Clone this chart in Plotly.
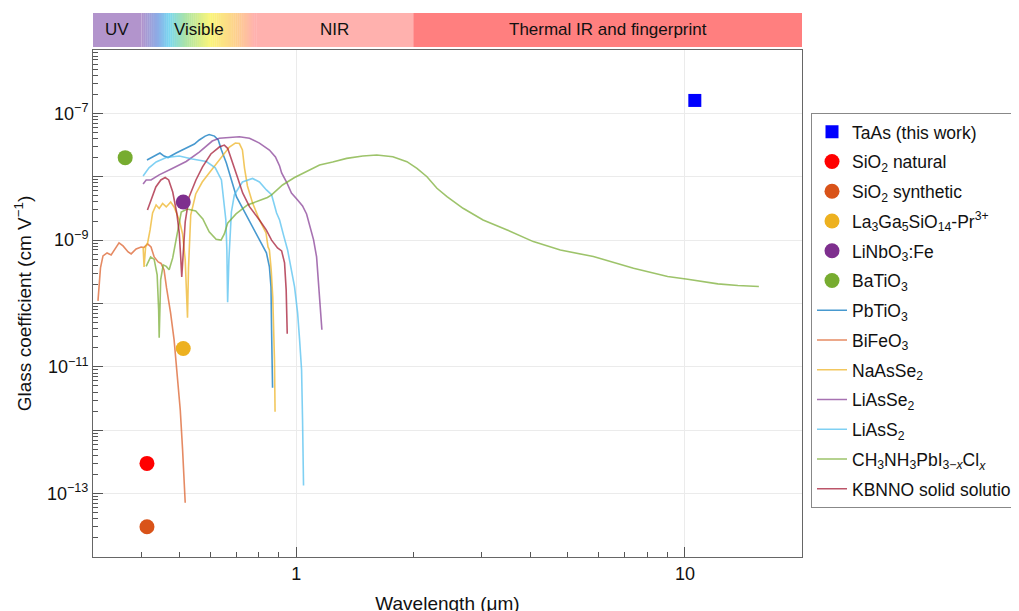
import plotly.graph_objects as go
import numpy as np

# ---------------- data ----------------
# point measurements (wavelength um, glass coefficient cm/V)
pt_names = ["TaAs (this work)", "SiO<sub>2</sub> natural", "SiO<sub>2</sub> synthetic",
            "La<sub>3</sub>Ga<sub>5</sub>SiO<sub>14</sub>-Pr<sup>3+</sup>",
            "LiNbO<sub>3</sub>:Fe", "BaTiO<sub>3</sub>"]
pt_x = [10.6, 0.413, 0.413, 0.512, 0.512, 0.363]
pt_y = [1.6e-7, 3.0e-13, 3.0e-14, 1.95e-11, 4.0e-9, 2.0e-8]
pt_colors = ["#0000ff", "#ff0000", "#d95319", "#edb120", "#7e2f8e", "#77ac30"]
pt_symbols = ["square", "circle", "circle", "circle", "circle", "circle"]

pbtio3_x = [0.413, 0.431, 0.446, 0.457, 0.468, 0.491, 0.515, 0.530, 0.547, 0.563, 0.583, 0.597,
            0.616, 0.630, 0.642, 0.661, 0.685, 0.702, 0.727, 0.772, 0.814, 0.838, 0.853, 0.861,
            0.864, 0.866, 0.869]
pbtio3_y = [1.84e-8, 2.12e-8, 2.37e-8, 2.12e-8, 2.01e-8, 2.37e-8, 2.73e-8, 3.05e-8, 3.28e-8,
            3.8e-8, 4.38e-8, 4.63e-8, 4.38e-8, 3.8e-8, 2.64e-8, 1.65e-8, 7.98e-9, 4.8e-9, 3.22e-9,
            1.61e-9, 9.0e-10, 6.3e-10, 3.79e-10, 1.83e-10, 3.85e-11, 9.0e-12, 4.7e-12]

bifeo3_x = [0.309, 0.3136, 0.3183, 0.3261, 0.334, 0.3418, 0.350, 0.3584, 0.3694, 0.3761, 0.3873,
            0.399, 0.406, 0.4146, 0.423, 0.431, 0.4413, 0.449, 0.457, 0.4638, 0.475, 0.485, 0.494,
            0.503, 0.510, 0.516, 0.518]
bifeo3_y = [1.10e-10, 3.65e-10, 5.64e-10, 6.28e-10, 5.85e-10, 7.26e-10, 9.03e-10, 8.1e-10, 6.52e-10,
            6.06e-10, 7.26e-10, 7.8e-10, 7.67e-10, 8.71e-10, 7.8e-10, 5.43e-10, 4.53e-10, 4.29e-10,
            3.39e-10, 1.76e-10, 7.13e-11, 2.67e-11, 8.37e-12, 2.11e-12, 4.94e-13, 1.49e-13, 7.2e-14]

naasse2_x = [0.4037, 0.406, 0.4097, 0.4146, 0.4207, 0.427, 0.436, 0.444, 0.4531, 0.463, 0.4753,
             0.485, 0.500, 0.510, 0.518, 0.5227, 0.5251, 0.5282, 0.5352, 0.5513, 0.573, 0.597,
             0.634, 0.673, 0.697, 0.714, 0.727, 0.736, 0.749, 0.772, 0.804, 0.836, 0.846, 0.853,
             0.862, 0.870, 0.879, 0.882]
naasse2_y = [7.8e-10, 3.78e-10, 7.8e-10, 9.03e-10, 1.45e-9, 2.68e-9, 3.59e-9, 3.16e-9, 3.79e-9,
             3.34e-9, 4.0e-9, 3.34e-9, 2.08e-9, 1.25e-9, 4.88e-10, 1.64e-10, 5.94e-11, 3.65e-10,
             2.49e-9, 5.35e-9, 8.26e-9, 1.15e-8, 1.84e-8, 2.94e-8, 3.40e-8, 3.34e-8, 2.64e-8,
             1.37e-8, 7.15e-9, 3.86e-9, 2.08e-9, 1.30e-9, 7.8e-10, 7.0e-10, 3.4e-10, 1.27e-10,
             1.29e-11, 1.96e-12]

liasse2_x = [0.4037, 0.411, 0.423, 0.444, 0.4797, 0.521, 0.563, 0.608, 0.634, 0.685, 0.714, 0.758,
             0.804, 0.853, 0.884, 0.906, 0.917, 0.944, 0.972, 1.008, 1.038, 1.063, 1.089, 1.108,
             1.128, 1.148, 1.164]
liasse2_y = [7.69e-9, 8.9e-9, 8.9e-9, 1.07e-8, 1.35e-8, 1.74e-8, 2.45e-8, 3.66e-8, 4.04e-8, 4.23e-8,
             4.28e-8, 4.04e-8, 3.40e-8, 2.64e-8, 2.05e-8, 1.48e-8, 1.15e-8, 8.26e-9, 5.55e-9,
             4.3e-9, 3.46e-9, 2.59e-9, 1.56e-9, 1.01e-9, 5.43e-10, 1.27e-10, 3.85e-11]

liass2_x = [0.4037, 0.418, 0.436, 0.463, 0.500, 0.540, 0.587, 0.619, 0.642, 0.651, 0.659, 0.663,
            0.666, 0.671, 0.676, 0.681, 0.693, 0.727, 0.772, 0.804, 0.838, 0.864, 0.890, 0.906,
            0.927, 0.950, 0.990, 1.008, 1.020, 1.032, 1.038, 1.044]
liass2_y = [1.03e-8, 1.38e-8, 1.71e-8, 2.01e-8, 2.12e-8, 1.90e-8, 1.74e-8, 1.38e-8, 8.9e-9, 4.3e-9,
            2.08e-9, 7.0e-10, 1.05e-10, 4.9e-10, 1.0e-9, 2.78e-9, 5.2e-9, 8.26e-9, 9.4e-9, 8.26e-9,
            6.2e-9, 5.2e-9, 2.68e-9, 2.08e-9, 1.21e-9, 7.0e-10, 1.83e-10, 7.1e-11, 2.67e-11,
            9.0e-12, 1.47e-12, 1.34e-13]

mapi_x = [0.411, 0.422, 0.431, 0.4387, 0.4426, 0.444, 0.4479, 0.4547, 0.463, 0.471, 0.481, 0.491,
          0.506, 0.5243, 0.5513, 0.575, 0.597, 0.622, 0.6405, 0.653, 0.666, 0.700, 0.749, 0.804,
          0.843, 0.864, 0.922, 0.990, 1.082, 1.148, 1.241, 1.348, 1.483, 1.611, 1.772, 1.926,
          2.044, 2.169, 2.301, 2.442, 2.686, 3.024, 3.488, 4.072, 4.779, 5.812, 7.373, 9.024,
          10.16, 12.15, 13.68, 15.49]
mapi_y = [3.85e-10, 5.43e-10, 4.96e-10, 2.83e-10, 7.94e-11, 2.88e-11, 2.36e-10, 4.07e-10, 3.85e-10,
          3.4e-10, 5.24e-10, 1.08e-9, 2.78e-9, 3.10e-9, 2.88e-9, 2.16e-9, 1.35e-9, 1.03e-9,
          1.0e-9, 1.25e-9, 1.85e-9, 2.59e-9, 3.59e-9, 4.22e-9, 4.71e-9, 5.16e-9, 7.41e-9, 9.73e-9,
          1.28e-8, 1.53e-8, 1.71e-8, 1.95e-8, 2.12e-8, 2.20e-8, 2.07e-8, 1.73e-8, 1.36e-8, 1.0e-8,
          6.58e-9, 4.85e-9, 3.18e-9, 2.08e-9, 1.45e-9, 9.47e-10, 7.0e-10, 5.50e-10, 3.61e-10,
          2.66e-10, 2.42e-10, 2.04e-10, 1.92e-10, 1.85e-10]

kbnno_x = [0.4142, 0.4224, 0.4353, 0.4484, 0.4601, 0.4697, 0.4811, 0.4927, 0.500, 0.5045, 0.5075,
           0.512, 0.518, 0.530, 0.552, 0.574, 0.603, 0.634, 0.653, 0.666, 0.686, 0.707, 0.728,
           0.758, 0.804, 0.837, 0.864, 0.895, 0.917, 0.933, 0.942, 0.948]
kbnno_y = [2.99e-9, 4.3e-9, 6.89e-9, 8.9e-9, 9.73e-9, 8.9e-9, 5.75e-9, 2.68e-9, 1.30e-9, 5.24e-10,
           2.63e-10, 6.28e-10, 1.94e-9, 4.8e-9, 8.9e-9, 1.43e-8, 2.29e-8, 2.94e-8, 3.16e-8, 2.81e-8,
           1.71e-8, 9.56e-9, 5.55e-9, 3.37e-9, 2.08e-9, 1.45e-9, 1.0e-9, 7.54e-10, 6.76e-10,
           4.37e-10, 1.64e-10, 3.33e-11]

line_names = ["PbTiO<sub>3</sub>", "BiFeO<sub>3</sub>", "NaAsSe<sub>2</sub>", "LiAsSe<sub>2</sub>",
              "LiAsS<sub>2</sub>", "CH<sub>3</sub>NH<sub>3</sub>PbI<sub>3−<i>x</i></sub>Cl<sub><i>x</i></sub>",
              "KBNNO solid solution"]
line_xs = [pbtio3_x, bifeo3_x, naasse2_x, liasse2_x, liass2_x, mapi_x, kbnno_x]
line_ys = [pbtio3_y, bifeo3_y, naasse2_y, liasse2_y, liass2_y, mapi_y, kbnno_y]
line_colors = ["rgba(0,114,189,0.72)", "rgba(217,83,25,0.68)", "rgba(237,177,32,0.72)",
               "rgba(126,47,142,0.68)", "rgba(77,190,238,0.72)", "rgba(119,172,48,0.72)",
               "rgba(162,20,47,0.72)"]

# spectral band strip
band_labels = ["UV", "Visible", "NIR", "Thermal IR and fingerprint"]
band_edges = [0.3, 0.4, 0.79, 2.0, 20.0]
band_colors = ["#b294cc", None, "#ffb1ae", "#ff7f7f"]
vis_stops = [(0.40, (178, 148, 204)), (0.44, (140, 172, 230)), (0.47, (122, 214, 240)),
             (0.52, (172, 228, 165)), (0.60, (250, 245, 122)), (0.70, (253, 208, 142)),
             (0.78, (255, 178, 174)), (0.79, (255, 177, 174))]

FONT = "Liberation Sans, Arial, Helvetica, sans-serif"

fig = go.Figure()

for i, (n, xs, ys, c) in enumerate(zip(line_names, line_xs, line_ys, line_colors)):
    fig.add_trace(go.Scatter(x=xs, y=ys, mode="lines", name=n, legendgroup="l%d" % i,
                             line=dict(color=c, width=1.6), legendrank=100 + i))

for i, (n, x, y, c, s) in enumerate(zip(pt_names, pt_x, pt_y, pt_colors, pt_symbols)):
    fig.add_trace(go.Scatter(x=[x], y=[y], mode="markers", name=n, legendgroup="p%d" % i,
                             marker=dict(color=c, symbol=s, size=13 if s == "square" else 15,
                                         line=dict(width=0)),
                             legendrank=1 + i))

# band shapes
shapes = []
y0b, y1b = 1.006, 1.073
for i, lab in enumerate(band_labels):
    if band_colors[i] is not None:
        shapes.append(dict(type="rect", xref="x", yref="paper", x0=band_edges[i], x1=band_edges[i + 1],
                           y0=y0b, y1=y1b, fillcolor=band_colors[i], line=dict(width=0), layer="above"))
# visible gradient
lx = np.log10([s[0] for s in vis_stops])
cols = np.array([s[1] for s in vis_stops], dtype=float)
nseg = 60
edges = np.linspace(np.log10(0.4), np.log10(0.79), nseg + 1)
for k in range(nseg):
    mid = 0.5 * (edges[k] + edges[k + 1])
    rgb = [int(round(np.interp(mid, lx, cols[:, j]))) for j in range(3)]
    shapes.append(dict(type="rect", xref="x", yref="paper", x0=10 ** edges[k], x1=10 ** edges[k + 1] * 1.002,
                       y0=y0b, y1=y1b, fillcolor="rgb(%d,%d,%d)" % tuple(rgb), line=dict(width=0),
                       layer="above"))

annotations = []
for i, lab in enumerate(band_labels):
    xc = np.sqrt(band_edges[i] * band_edges[i + 1])
    annotations.append(dict(x=np.log10(xc), xref="x", y=(y0b + y1b) / 2, yref="paper", text=lab,
                            xanchor="center", yanchor="middle",
                            showarrow=False, font=dict(size=17, color="#111", family=FONT)))

y_decades = [10.0 ** e for e in range(-14, -5)]
y_text = ["10<sup>−%d</sup>" % (-e) if (e % 2 != 0) else "" for e in range(-14, -5)]
y_minor = [m * 10.0 ** e for e in range(-14, -6) for m in range(2, 10)]
x_major = [1, 10]
x_minor = [0.3, 0.4, 0.5, 0.6, 0.7, 0.8, 0.9, 2, 3, 4, 5, 6, 7, 8, 9, 20]

fig.update_layout(
    width=1019, height=611,
    margin=dict(l=85, r=225, t=42, b=62, autoexpand=False),
    paper_bgcolor="white", plot_bgcolor="white",
    font=dict(family=FONT, size=17, color="#111"),
    shapes=shapes, annotations=annotations,
    showlegend=True,
    legend=dict(x=1.0127, y=0.876, xanchor="left", yanchor="top", bgcolor="white",
                bordercolor="#888", borderwidth=1, font=dict(size=17.5, family=FONT),
                tracegroupgap=4, itemwidth=30),
    xaxis=dict(type="log", range=[np.log10(0.3), np.log10(20)],
               tickvals=x_major, ticktext=["1", "10"], ticks="inside", ticklen=10,
               tickcolor="#555", tickfont=dict(size=18),
               minor=dict(tickmode="array", tickvals=x_minor, ticks="inside", ticklen=5,
                          tickcolor="#555", showgrid=False),
               showgrid=True, gridcolor="#ebebeb", gridwidth=1,
               showline=True, linecolor="#666", linewidth=1, mirror=True, zeroline=False,
               title=dict(text="Wavelength (μm)", font=dict(size=19), standoff=14)),
    yaxis=dict(type="log", range=[-14, -6],
               tickvals=y_decades, ticktext=y_text, ticks="inside", ticklen=10,
               tickcolor="#555", tickfont=dict(size=18),
               minor=dict(tickmode="array", tickvals=y_minor, ticks="inside", ticklen=5,
                          tickcolor="#555", showgrid=False),
               showgrid=True, gridcolor="#ebebeb", gridwidth=1,
               showline=True, linecolor="#666", linewidth=1, mirror=True, zeroline=False,
               title=dict(text="Glass coefficient (cm V<sup>−1</sup>)", font=dict(size=19), standoff=10)),
)

fig.write_html("out.html")
